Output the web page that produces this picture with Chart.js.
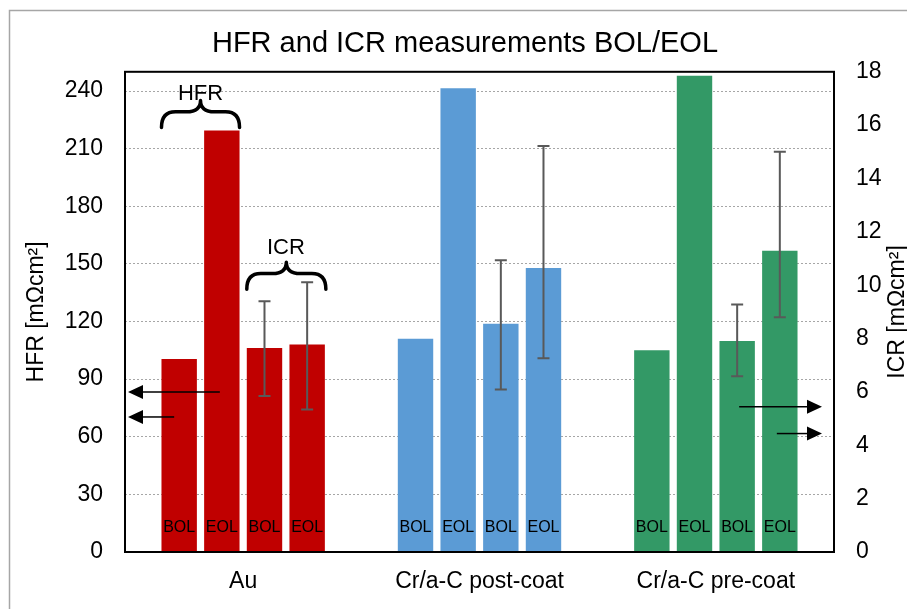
<!DOCTYPE html>
<html>
<head>
<meta charset="utf-8">
<script src="https://cdn.jsdelivr.net/npm/chart.js@4.4.1/dist/chart.umd.min.js"></script>
<style>
  html, body { margin: 0; padding: 0; background: #ffffff; }
  canvas { display: block; }
</style>
</head>
<body>
<canvas id="c" width="907" height="609"></canvas>
<script>
// ---------------- data ----------------
const categories = ['Au', 'Cr/a-C post-coat', 'Cr/a-C pre-coat'];
const hfrBOL = [100.5, 111, 105];
const hfrEOL = [219.5, 241.5, 248];
const icrBOL = [7.65, 8.56, 7.91];
const icrEOL = [7.78, 10.65, 11.29];
const icrBOLErrLow  = [5.85, 6.09, 6.59];
const icrBOLErrHigh = [9.40, 10.94, 9.28];
const icrEOLErrLow  = [5.34, 7.26, 8.80];
const icrEOLErrHigh = [10.11, 15.22, 15.00];
const barLabels = ['BOL', 'EOL', 'BOL', 'EOL'];
const hfrTicks = [0, 30, 60, 90, 120, 150, 180, 210, 240];
const icrTicks = [0, 2, 4, 6, 8, 10, 12, 14, 16, 18];

// ---------------- styles ----------------
const FONT = "'Liberation Sans', Arial, sans-serif";
const groupColors = ['#C00000', '#5B9BD5', '#339966'];

const annotationPlugin = {
  id: 'annot',
  beforeDraw(chart) {
    const c = chart.ctx;
    c.save();
    c.fillStyle = '#ffffff';
    c.fillRect(0, 0, chart.width, chart.height);
    c.strokeStyle = '#a6a6a6';
    c.lineWidth = 1.5;
    c.strokeRect(9.5, 10.5, 1200, 1200);
    c.restore();
  },
  afterDatasetsDraw(chart) {
    const c = chart.ctx;
    const a = chart.chartArea;
    const yL = chart.scales.y, yR = chart.scales.y1;
    c.save();
    // plot border
    c.strokeStyle = '#000';
    c.lineWidth = 2;
    c.strokeRect(a.left, a.top, a.right - a.left, a.bottom - a.top);

    // error bars (ICR datasets)
    const errs = [[icrBOLErrLow, icrBOLErrHigh], [icrEOLErrLow, icrEOLErrHigh]];
    c.strokeStyle = '#595959';
    c.lineWidth = 2;
    [2, 3].forEach((di, k) => {
      const meta = chart.getDatasetMeta(di);
      meta.data.forEach((el, i) => {
        const lo = yR.getPixelForValue(errs[k][0][i]);
        const hi = yR.getPixelForValue(errs[k][1][i]);
        c.beginPath();
        c.moveTo(el.x, lo); c.lineTo(el.x, hi);
        c.moveTo(el.x - 6, lo); c.lineTo(el.x + 6, lo);
        c.moveTo(el.x - 6, hi); c.lineTo(el.x + 6, hi);
        c.stroke();
      });
    });

    // BOL/EOL labels inside bars
    c.fillStyle = '#000';
    c.font = '16px ' + FONT;
    c.textAlign = 'center';
    c.textBaseline = 'middle';
    for (let di = 0; di < 4; di++) {
      chart.getDatasetMeta(di).data.forEach(el => {
        c.fillText(barLabels[di], el.x, a.bottom - 24);
      });
    }

    // braces
    function brace(x1, x2, yb, h) {
      const xm = (x1 + x2) / 2, ym = yb - h * 0.58, yt = yb - h, q = 14;
      c.beginPath();
      c.moveTo(x1, yb);
      c.quadraticCurveTo(x1, ym, x1 + q, ym);
      c.lineTo(xm - q, ym);
      c.quadraticCurveTo(xm, ym, xm, yt);
      c.quadraticCurveTo(xm, ym, xm + q, ym);
      c.lineTo(x2 - q, ym);
      c.quadraticCurveTo(x2, ym, x2, yb);
      c.stroke();
    }
    c.strokeStyle = '#000';
    c.lineWidth = 3.5;
    c.lineCap = 'round';
    c.lineJoin = 'round';
    const b0 = chart.getDatasetMeta(0).data[0], b1 = chart.getDatasetMeta(1).data[0];
    const b2 = chart.getDatasetMeta(2).data[0], b3 = chart.getDatasetMeta(3).data[0];
    const hfrBraceY = yL.getPixelForValue(221);
    brace(b0.x - b0.width / 2, b1.x + b1.width / 2, hfrBraceY, 27);
    const icrBraceY = yR.getPixelForValue(9.85);
    brace(b2.x - b2.width / 2, b3.x + b3.width / 2 + 1, icrBraceY, 27);
    c.font = '22px ' + FONT;
    c.textBaseline = 'alphabetic';
    c.fillText('HFR', (b0.x + b1.x) / 2, hfrBraceY - 28);
    c.fillText('ICR', (b2.x + b3.x) / 2, icrBraceY - 35);

    // arrows
    c.lineWidth = 1.5;
    c.lineCap = 'butt';
    function arrow(x0, x1, y) {
      const dir = Math.sign(x1 - x0), L = 15, H = 7;
      c.beginPath();
      c.moveTo(x0, y); c.lineTo(x1 - dir * L, y);
      c.stroke();
      c.beginPath();
      c.moveTo(x1, y);
      c.lineTo(x1 - dir * L, y - H);
      c.lineTo(x1 - dir * L, y + H);
      c.closePath();
      c.fill();
    }
    arrow(b1.x - 2, a.left + 3, yL.getPixelForValue(83.3));
    arrow(b0.x - 5, a.left + 3, yL.getPixelForValue(70.3));
    const g2 = chart.getDatasetMeta(2).data[2], g3 = chart.getDatasetMeta(3).data[2];
    arrow(g2.x + 2, a.right - 12, yR.getPixelForValue(5.44));
    arrow(g3.x - 3, a.right - 12, yR.getPixelForValue(4.44));

    // right axis title (reads bottom to top)
    c.save();
    c.translate(898, (a.top + a.bottom) / 2);
    c.rotate(-Math.PI / 2);
    c.font = '23px ' + FONT;
    c.textAlign = 'center';
    c.textBaseline = 'middle';
    c.fillText('ICR [mΩcm²]', 0, 0);
    c.restore();

    c.restore();
  }
};

const dsCommon = { categoryPercentage: 0.722, barPercentage: 0.83, backgroundColor: groupColors, borderWidth: 0 };

new Chart(document.getElementById('c'), {
  type: 'bar',
  data: {
    labels: categories,
    datasets: [
      Object.assign({ label: 'HFR BOL', data: hfrBOL, yAxisID: 'y' }, dsCommon),
      Object.assign({ label: 'HFR EOL', data: hfrEOL, yAxisID: 'y' }, dsCommon),
      Object.assign({ label: 'ICR BOL', data: icrBOL, yAxisID: 'y1' }, dsCommon),
      Object.assign({ label: 'ICR EOL', data: icrEOL, yAxisID: 'y1' }, dsCommon)
    ]
  },
  options: {
    responsive: false,
    animation: false,
    devicePixelRatio: 1,
    layout: { padding: { left: 23, right: 0, top: 0, bottom: 0 } },
    plugins: {
      legend: { display: false },
      tooltip: { enabled: false },
      title: {
        display: true,
        text: 'HFR and ICR measurements BOL/EOL',
        color: '#000',
        font: { family: FONT, size: 29, weight: 'normal' },
        padding: { top: 27, bottom: 10 }
      }
    },
    scales: {
      x: {
        grid: { display: false, drawTicks: false },
        border: { display: false },
        ticks: { color: '#000', font: { family: FONT, size: 23 }, padding: 16, maxRotation: 0, autoSkip: false },
        afterFit(s) { s.height = 57; }
      },
      y: {
        position: 'left',
        min: 0, max: 250,
        afterBuildTicks(s) { s.ticks = hfrTicks.map(v => ({ value: v })); },
        ticks: { color: '#000', font: { family: FONT, size: 23 }, padding: 22 },
        grid: { color: '#a6a6a6', lineWidth: 1, drawTicks: false },
        border: { display: false, dash: [2, 2] },
        title: { display: true, text: 'HFR [mΩcm²]', color: '#000', font: { family: FONT, size: 23 }, padding: { top: 0, bottom: 0 } },
        afterFit(s) { s.width = 102; }
      },
      y1: {
        position: 'right',
        min: 0, max: 18,
        afterBuildTicks(s) { s.ticks = icrTicks.map(v => ({ value: v })); },
        ticks: { color: '#000', font: { family: FONT, size: 23 }, padding: 22 },
        grid: { display: false, drawTicks: false },
        border: { display: false },
        afterFit(s) { s.width = 73; }
      }
    }
  },
  plugins: [annotationPlugin]
});
</script>
</body>
</html>
